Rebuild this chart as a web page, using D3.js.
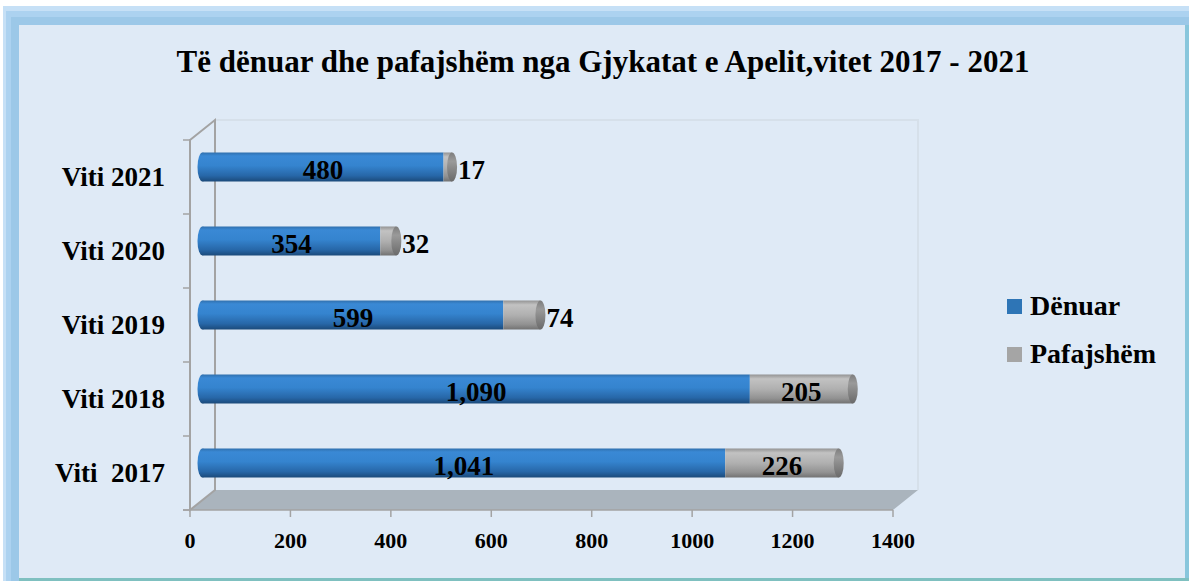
<!DOCTYPE html>
<html>
<head>
<meta charset="utf-8">
<script src="https://cdnjs.cloudflare.com/ajax/libs/d3/7.8.5/d3.min.js"></script>
<style>
  body { margin: 0; background: #ffffff; }
  text { font-family: "Liberation Serif", "DejaVu Serif", serif; font-weight: bold; fill: #000; }
</style>
</head>
<body>
<div id="chart"></div>
<script>
'use strict';
// Të dënuar dhe pafajshëm - Gjykatat e Apelit
const vitet = ['Viti  2017', 'Viti 2018', 'Viti 2019', 'Viti 2020', 'Viti 2021'];
const denuar = [1041, 1090, 599, 354, 480];
const pafajshem = [226, 205, 74, 32, 17];
const seriet = ['Dënuar', 'Pafajshëm'];
const xTicks = [0, 200, 400, 600, 800, 1000, 1200, 1400];

const W = 1189, H = 581;
const dx = 25, dy = -20; // thellesia 3D

const svg = d3.select('#chart').append('svg')
  .attr('width', W).attr('height', H);

const defs = svg.append('defs');

function gradient(id, stops) {
  const g = defs.append('linearGradient').attr('id', id)
    .attr('x1', 0).attr('y1', 0).attr('x2', 0).attr('y2', 1);
  stops.forEach(function(s) {
    g.append('stop').attr('offset', s[0]).attr('stop-color', s[1]);
  });
}
gradient('blu', [[0, '#3070ae'], [0.12, '#3a89d5'], [0.45, '#3584cf'], [0.8, '#2767a8'], [1, '#1b4a7a']]);
gradient('gri', [[0, '#939393'], [0.15, '#c2c2c2'], [0.5, '#b0b0b0'], [0.82, '#929292'], [1, '#727272']]);
gradient('kapak', [[0, '#7d7d7d'], [0.3, '#9a9a9a'], [1, '#6a6a6a']]);

// korniza
svg.append('rect').attr('x', 0).attr('y', 0).attr('width', W).attr('height', H).attr('fill', '#ffffff');
svg.append('rect').attr('x', 3).attr('y', 6).attr('width', W - 3).attr('height', H - 6)
  .attr('fill', '#c6e0f6');
svg.append('rect').attr('x', 6).attr('y', 11).attr('width', W - 6).attr('height', H - 11)
  .attr('fill', '#acd2f0');
svg.append('rect').attr('x', 11).attr('y', 17).attr('width', W - 11).attr('height', H - 17)
  .attr('fill', '#9cc8e8');
svg.append('rect').attr('x', 19).attr('y', 25).attr('width', 1167).attr('height', 553)
  .attr('fill', '#dfeaf6');
svg.append('rect').attr('x', 19).attr('y', 578).attr('width', 1170).attr('height', 3)
  .attr('fill', '#7fc0c0');
svg.append('rect').attr('x', 1185).attr('y', 25).attr('width', 4).attr('height', 553)
  .attr('fill', '#88c6dc');

// titulli
svg.append('text')
  .attr('x', 603).attr('y', 72)
  .attr('text-anchor', 'middle')
  .style('font-size', '31px')
  .text('Të dënuar dhe pafajshëm nga Gjykatat e Apelit,vitet 2017 - 2021');

const x = d3.scaleLinear().domain([0, 1400]).range([190, 893]);
const y = d3.scaleBand().domain(vitet).range([510, 140]);

// muri i pasem
svg.append('path')
  .attr('d', `M${x(0) + dx},${y.range()[0] + dy} V${y.range()[1] + dy} H${x(1400) + dx} V${510 + dy}`)
  .attr('fill', 'none').attr('stroke', '#d6e0ea').attr('stroke-width', 2);

// dyshemeja
svg.append('path')
  .attr('d', `M${x(0)},510 L${x(1400)},510 L${x(1400) + dx},${510 + dy} L${x(0) + dx},${510 + dy} Z`)
  .attr('fill', '#aab4bd');

// muri majtas
svg.append('path')
  .attr('d', `M${x(0)},140 L${x(0) + dx},${140 + dy} V${510 + dy} L${x(0)},510 Z`)
  .attr('fill', 'none').attr('stroke', '#a3a3a3').attr('stroke-width', 2);

// boshti y
svg.append('line').attr('x1', x(0)).attr('x2', x(0)).attr('y1', 140).attr('y2', 510)
  .attr('stroke', '#a3a3a3').attr('stroke-width', 2);
d3.range(vitet.length + 1).forEach(function(i) {
  const yy = 510 - i * y.step();
  svg.append('line').attr('x1', x(0) - 7).attr('x2', x(0)).attr('y1', yy).attr('y2', yy)
    .attr('stroke', '#a3a3a3').attr('stroke-width', 1.5);
});
svg.selectAll('.ylab').data(vitet).enter().append('text')
  .attr('class', 'ylab')
  .attr('x', 165)
  .attr('y', d => y(d) + y.bandwidth() / 2 + 9)
  .attr('text-anchor', 'end')
  .style('font-size', '27px')
  .style('white-space', 'pre')
  .text(d => d);

// boshti x
svg.append('line').attr('x1', x(0) - 7).attr('x2', x(1400)).attr('y1', 510).attr('y2', 510)
  .attr('stroke', '#a3a3a3').attr('stroke-width', 1.5);
svg.selectAll('.xtick').data(xTicks).enter().append('line')
  .attr('x1', d => x(d)).attr('x2', d => x(d))
  .attr('y1', 510).attr('y2', 517)
  .attr('stroke', '#a3a3a3').attr('stroke-width', 1.5);
svg.selectAll('.xlab').data(xTicks).enter().append('text')
  .attr('x', d => x(d)).attr('y', 548)
  .attr('text-anchor', 'middle')
  .style('font-size', '22px')
  .text(d => d);

// shtyllat cilindrike
const bh = 29, rx = 5;
const fmt = d3.format(',');
const data = vitet.map(function(v, i) { return { v: v, d: denuar[i], p: pafajshem[i] }; });

const g = svg.selectAll('.bar').data(data).enter().append('g')
  .attr('transform', d => `translate(${dx / 2},${y(d.v) + y.bandwidth() / 2 + dy / 2 - bh / 2})`);

g.append('ellipse')
  .attr('cx', x(0)).attr('cy', bh / 2).attr('rx', rx).attr('ry', bh / 2)
  .attr('fill', 'url(#blu)');
g.append('rect')
  .attr('x', x(0)).attr('y', 0)
  .attr('width', d => x(d.d) - x(0)).attr('height', bh)
  .attr('fill', 'url(#blu)');
g.append('rect')
  .attr('x', d => x(d.d)).attr('y', 0)
  .attr('width', d => x(d.d + d.p) - x(d.d)).attr('height', bh)
  .attr('fill', 'url(#gri)');
g.append('ellipse')
  .attr('cx', d => x(d.d + d.p)).attr('cy', bh / 2).attr('rx', rx).attr('ry', bh / 2)
  .attr('fill', 'url(#kapak)');

g.append('text')
  .attr('x', d => (x(0) + x(d.d)) / 2)
  .attr('y', bh / 2 + 12)
  .attr('text-anchor', 'middle')
  .style('font-size', '27px')
  .text(d => fmt(d.d));

g.append('text')
  .attr('x', d => d.p > 100 ? (x(d.d) + x(d.d + d.p)) / 2 : x(d.d + d.p) + rx + 1)
  .attr('y', bh / 2 + 12)
  .attr('text-anchor', d => d.p > 100 ? 'middle' : 'start')
  .style('font-size', '27px')
  .text(d => fmt(d.p));

// legjenda
const leg = svg.selectAll('.leg').data(seriet).enter().append('g')
  .attr('transform', (d, i) => `translate(1007,${299 + i * 48})`);
leg.append('rect').attr('width', 15).attr('height', 15)
  .attr('fill', (d, i) => i === 0 ? '#2e75b6' : '#a5a5a5');
leg.append('text').attr('x', 23).attr('y', 16)
  .style('font-size', '28px')
  .text(d => d);
</script>
</body>
</html>
